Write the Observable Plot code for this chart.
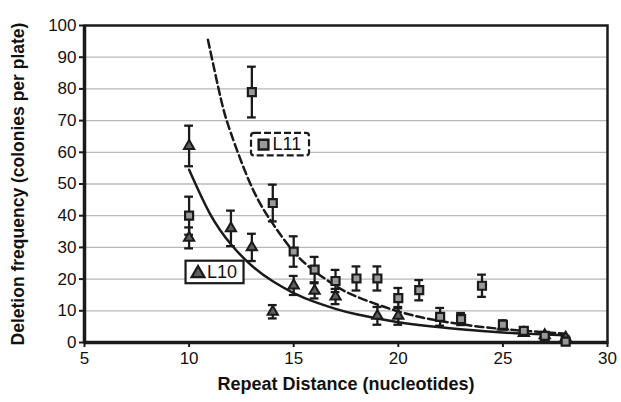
<!DOCTYPE html>
<html>
<head>
<meta charset="utf-8">
<script src="https://cdn.jsdelivr.net/npm/d3@7"></script>
<script src="https://cdn.jsdelivr.net/npm/@observablehq/plot@0.6"></script>
<style>
  html, body { margin: 0; padding: 0; background: #fff; }
  #chart { width: 621px; height: 402px; }
</style>
</head>
<body>
<div id="chart"></div>
<script>
// ---- Data ----
// L11 (grey squares, dashed trendline)
const l11X   = [10, 13, 14, 15, 16, 17, 18, 19, 20, 21, 22, 23, 24, 25, 26, 27, 28];
const l11Y   = [40, 79, 44, 28.7, 23, 19.4, 20.2, 20.2, 14, 16.5, 8.1, 7.4, 17.9, 5.6, 3.7, 2.1, 0.3];
const l11Err = [6, 8, 5.8, 4.8, 4, 3.5, 3.8, 3.8, 3.2, 3.2, 2.8, 1.9, 3.5, 1.4, 0.9, 0.8, 0.5];

// L10 (triangles, solid trendline)
const l10X   = [10, 10, 12, 13, 14, 15, 16, 17, 19, 20, 25, 26, 27, 28];
const l10Y   = [62, 33, 36, 30, 9.7, 18, 16.3, 14.5, 8.4, 8.4, 5, 3, 2.3, 1.5];
const l10Err = [6.4, 3.3, 5.6, 4.3, 2.1, 3, 2.4, 2.4, 2.8, 2.8, 0.8, 0.8, 0.8, 0.6];

// Trendlines
const l11TrendX = [10.9, 11.5, 12, 13, 14, 15, 16, 17, 18, 20, 22, 24, 26, 28];
const l11TrendY = [95.5, 77.4, 66, 49, 37.5, 28.6, 22.5, 17.9, 14.5, 9.8, 6.8, 4.9, 3.7, 2.8];
const l10TrendX = [10, 11, 12, 13, 14, 15, 16, 17, 18, 20, 22, 24, 26, 28];
const l10TrendY = [54.5, 40.6, 31.0, 24.2, 19.3, 15.6, 12.8, 10.6, 8.9, 6.4, 4.8, 3.6, 2.8, 2.3];

// Axes
const xTicks = [5, 10, 15, 20, 25, 30];
const yTicks = [0, 10, 20, 30, 40, 50, 60, 70, 80, 90, 100];
const gridValues = [10, 20, 30, 40, 50, 60, 70, 80, 90];
const xLabel = "Repeat Distance (nucleotides)";
const yLabel = "Deletion frequency (colonies per plate)";

// Legend labels and their anchor (box centre, data units)
const legendLabels = ["L11", "L10"];
const legendAnchorX = [14.37, 11.24];
const legendAnchorY = [62.4, 22.1];

// ---- Build tables ----
const l11 = l11X.map((x, i) => ({x, y: l11Y[i], lo: l11Y[i] - l11Err[i], hi: l11Y[i] + l11Err[i]}));
const l10 = l10X.map((x, i) => ({x, y: l10Y[i], lo: l10Y[i] - l10Err[i], hi: l10Y[i] + l10Err[i]}));
const l11Trend = l11TrendX.map((x, i) => ({x, y: l11TrendY[i]}));
const l10Trend = l10TrendX.map((x, i) => ({x, y: l10TrendY[i]}));
const legend = legendLabels.map((label, i) => ({label, x: legendAnchorX[i], y: legendAnchorY[i]}));

const ink = "#1a1a1a";
const capHalf = 0.21; // cap half-width in x units
const errMarks = (data) => [
  Plot.ruleX(data, {x: "x", y1: "lo", y2: "hi", stroke: ink, strokeWidth: 2.3}),
  Plot.ruleY(data, {y: "hi", x1: d => d.x - capHalf, x2: d => d.x + capHalf, stroke: ink, strokeWidth: 2.3}),
  Plot.ruleY(data, {y: "lo", x1: d => d.x - capHalf, x2: d => d.x + capHalf, stroke: ink, strokeWidth: 2.3})
];

const boxW = 58, boxH = 22.5;

const chart = Plot.plot({
  width: 621,
  height: 402,
  marginLeft: 84,
  marginRight: 14,
  marginTop: 25,
  marginBottom: 60,
  style: {fontFamily: "'Liberation Sans', Arial, Helvetica, sans-serif", fontSize: "17px", color: "#111", background: "#fff"},
  x: {domain: [5, 30]},
  y: {domain: [0, 100]},
  marks: [
    Plot.ruleY(gridValues, {stroke: "#b8b8b8", strokeWidth: 1.3}),
    Plot.axisX({ticks: xTicks, tickSize: 5, tickPadding: 4, label: null, stroke: ink, strokeWidth: 2, fontSize: 17}),
    Plot.axisY({ticks: yTicks, tickSize: 5, tickPadding: 3, label: null, stroke: ink, strokeWidth: 2, fontSize: 17}),
    Plot.frame({stroke: ink, strokeWidth: 2.5}),
    Plot.ruleX([5], {stroke: ink, strokeWidth: 3.5}),
    Plot.ruleY([0], {stroke: ink, strokeWidth: 3.5}),
    Plot.line(l10Trend, {x: "x", y: "y", curve: "natural", stroke: ink, strokeWidth: 2.5}),
    Plot.line(l11Trend, {x: "x", y: "y", curve: "natural", stroke: ink, strokeWidth: 2.5, strokeDasharray: "8,4"}),
    ...errMarks(l10),
    ...errMarks(l11),
    Plot.dot(l10, {x: "x", y: "y", symbol: "triangle", r: 3.8, fill: "#5e5e5e", stroke: ink, strokeWidth: 2}),
    Plot.dot(l11, {x: "x", y: "y", symbol: "square", r: 4.5, fill: "#999", stroke: ink, strokeWidth: 2.2}),
    // legend boxes
    Plot.rect([legend[0]], {x1: "x", x2: "x", y1: "y", y2: "y",
      insetLeft: -boxW / 2, insetRight: -boxW / 2, insetTop: -boxH / 2, insetBottom: -boxH / 2,
      fill: "#fff", stroke: ink, strokeWidth: 2.2, strokeDasharray: "7,3", rx: 3}),
    Plot.rect([legend[1]], {x1: "x", x2: "x", y1: "y", y2: "y",
      insetLeft: -boxW / 2, insetRight: -boxW / 2, insetTop: -boxH / 2, insetBottom: -boxH / 2,
      fill: "#fff", stroke: ink, strokeWidth: 2.2}),
    Plot.dot([legend[0]], {x: "x", y: "y", dx: -boxW / 2 + 12, symbol: "square", r: 5.5, fill: "#999", stroke: ink, strokeWidth: 2.4}),
    Plot.dot([legend[1]], {x: "x", y: "y", dx: -boxW / 2 + 12, dy: 1, symbol: "triangle", r: 4.8, fill: "#5e5e5e", stroke: ink, strokeWidth: 2.2}),
    Plot.text(legend, {x: "x", y: "y", text: "label", textAnchor: "start", fontSize: 18, fill: "#111", dx: -boxW / 2 + 21}),
    // axis titles
    Plot.text([xLabel], {text: d => d, frameAnchor: "bottom", dy: 47, fontWeight: "bold", fontSize: 18, fill: "#111"}),
    Plot.text([yLabel], {text: d => d, frameAnchor: "left", dx: -66, rotate: -90, textAnchor: "middle", fontWeight: "bold", fontSize: 17.5, fill: "#111"})
  ]
});
document.getElementById("chart").appendChild(chart);
</script>
</body>
</html>
